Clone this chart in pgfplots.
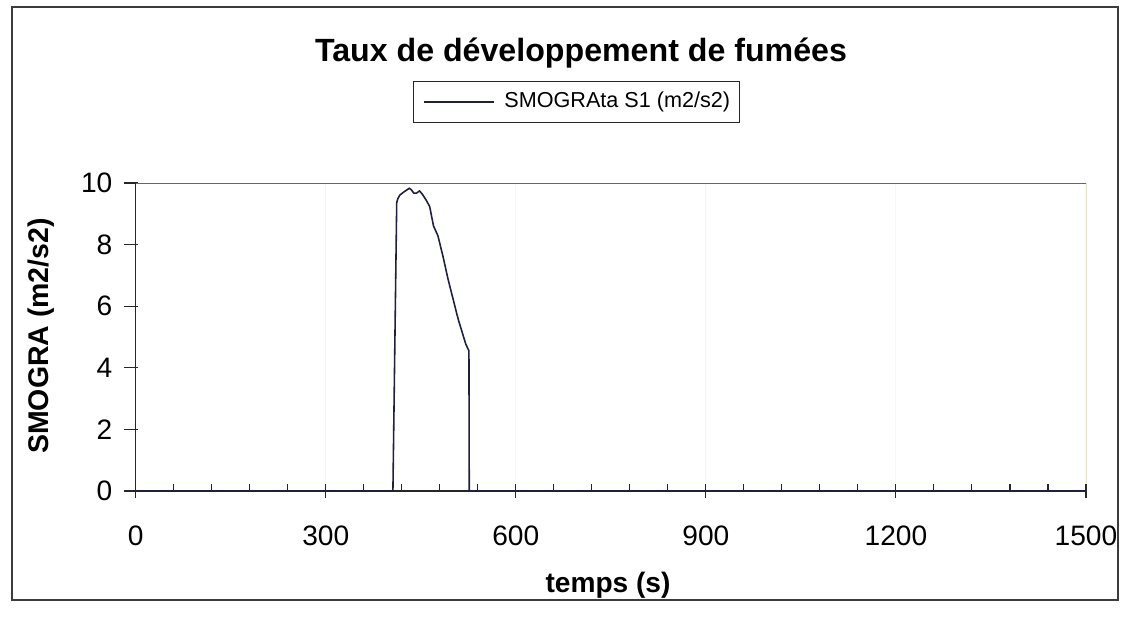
\documentclass[border=0pt]{standalone}
\usepackage{fontspec}
\setmainfont{Liberation Sans}
\usepackage{pgfplots}
\pgfplotsset{compat=1.18}
\definecolor{smog}{RGB}{30,32,62}
\definecolor{gridy}{RGB}{250,248,222}
\definecolor{frame}{RGB}{60,60,60}

\begin{document}
\begin{tikzpicture}
% page: 1128 x 623 px at 0.02 cm per px
\path (0,0) rectangle (22.56,12.46);
\draw[frame, line width=0.7pt] (0.24,0.46) rectangle (22.36,12.32);
\begin{axis}[
  at={(2.714cm,2.64cm)}, anchor=south west,
  scale only axis, width=19.006cm, height=6.16cm,
  xmin=0, xmax=1500, ymin=0, ymax=10,
  xtick={0,300,...,1500}, ytick={0,2,...,10},
  minor x tick num=4,
  xtick pos=bottom, ytick pos=left,
  axis lines*=left,
  axis line style={black!85, line width=0.8pt},
  tick style={black!85, line width=0.6pt},
  tick align=inside,
  major tick length=0.28cm, minor tick length=0.14cm,
  major x tick style={yshift=-0.14cm},
  major y tick style={xshift=-0.24cm},
  xmajorgrids, major grid style={gridy, line width=0.6pt},
  /pgf/number format/assume math mode=true,
  /pgf/number format/1000 sep={},
  tick label style={font=\fontsize{16}{16}\selectfont, inner sep=0pt},
  xticklabel style={anchor=base, yshift=-1.08cm},
  yticklabel style={anchor=east, xshift=-0.46cm},
  legend style={at={(0.4638,1.263)}, anchor=center, draw=black!85,
    line width=0.6pt, font=\fontsize{12.3}{12.3}\selectfont,
    inner xsep=0.18cm, inner ysep=0.22cm,
    nodes={inner sep=0pt, text depth=0.08cm}, column sep=0.2cm},
  legend image code/.code={\draw[#1] (0cm,0cm) -- (1.4cm,0cm);},
]
\addplot[smog, line width=0.9pt] coordinates {
  (0,0) (406,0) (412,9.37) (414,9.50) (417,9.61) (424,9.72) (432,9.83)
  (435,9.78) (439,9.67) (443,9.67) (448,9.74) (452,9.65) (458,9.46)
  (464,9.24) (470,8.61) (477,8.29) (485,7.62) (493,6.88) (501,6.23)
  (509,5.58) (517,5.04) (521,4.77) (526,4.55) (526.5,0) (1500,0)
};
\addlegendentry{SMOGRAta S1 (m2/s2)}
\draw[black!60, line width=0.5pt] (rel axis cs:0,1) -- (rel axis cs:1,1) -- (rel axis cs:1,0);
\end{axis}
\node[anchor=base, font=\fontsize{18.3}{18.3}\selectfont\bfseries] at (11.62,11.22) {Taux de développement de fumées};
\node[rotate=90, font=\fontsize{16.2}{16.2}\selectfont\bfseries] at (0.82,5.74) {SMOGRA (m2/s2)};
\node[anchor=base, font=\fontsize{16}{16}\selectfont\bfseries] at (12.16,0.62) {temps (s)};
\end{tikzpicture}
\end{document}
